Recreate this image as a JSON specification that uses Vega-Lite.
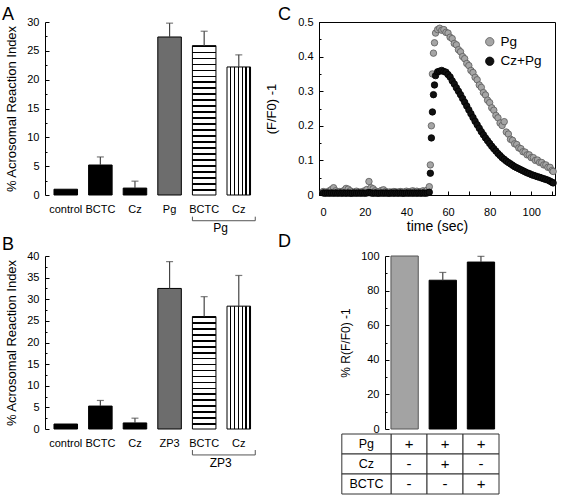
{
  "$schema": "https://vega.github.io/schema/vega-lite/v6.json",
  "autosize": "none",
  "padding": {"left": 45, "top": 22, "right": 518, "bottom": 476},
  "background": "white",
  "config": {
    "font": "Liberation Sans",
    "view": {"stroke": null},
    "axis": {"labelFontSize": 11, "titleFontSize": 13, "titleFontWeight": "normal", "labelColor": "black", "titleColor": "black", "domainColor": "black", "tickColor": "black", "grid": false, "labelOverlap": false},
    "title": {"fontSize": 18, "fontWeight": "normal", "anchor": "start", "frame": "group", "offset": 0, "color": "black"}
  },
  "columns": 2,
  "bounds": "flush",
  "align": "each",
  "spacing": {"row": 61, "column": 20},
  "resolve": {"scale": {"fill": "independent", "stroke": "independent"}, "legend": {"fill": "independent", "stroke": "independent"}},
  "concat": [
    {
      "width": 254, "height": 173,
      "title": {"text": "A", "dx": -43, "dy": 12},
      "data": {"values": [
        {"cond": "control", "value": 1.0, "upper": 1.0},
        {"cond": "BCTC", "value": 5.2, "upper": 6.6},
        {"cond": "Cz", "value": 1.2, "upper": 2.4},
        {"cond": "Pg", "value": 27.4, "upper": 29.8},
        {"cond": "BCTC+Pg", "value": 25.9, "upper": 28.4},
        {"cond": "Cz+Pg", "value": 22.2, "upper": 24.3}
      ]},
      "encoding": {
        "x": {"field": "cond", "type": "nominal", "sort": null,
          "scale": {"type": "band", "domain": ["control", "BCTC", "Cz", "Pg", "BCTC+Pg", "Cz+Pg"], "paddingInner": 0.32, "paddingOuter": 0.83, "align": 0.1565},
          "axis": {"title": null, "domain": false, "ticks": false, "labelPadding": 8, "labelAngle": 0, "labelOverlap": false, "labelExpr": "split(datum.value, '+')[0]"}}
      },
      "layer": [
        {
          "mark": {"type": "bar", "stroke": "black", "strokeWidth": 1},
          "encoding": {
            "y": {"field": "value", "type": "quantitative",
              "scale": {"domain": [0, 30], "nice": false},
              "axis": {"title": "% Acrosomal Reaction Index", "values": [0, 2.5, 5, 7.5, 10, 12.5, 15, 17.5, 20, 22.5, 25, 27.5, 30],
                "tickCount": 50, "labelOverlap": false,
                "labelExpr": "datum.value % 5 === 0 ? format(datum.value, 'd') : ''",
                "tickSize": {"condition": {"test": "datum.value % 5 === 0", "value": -4}, "value": -2},
                "labelPadding": 10, "titlePadding": 8}},
            "fill": {
              "condition": [
                {"test": "datum.cond === 'Pg'", "value": "#6d6d6d"},
                {"test": "datum.cond === 'BCTC+Pg'", "value": {"gradient": "linear", "x1": 0, "y1": 0, "x2": 0, "y2": 1, "stops": [
                  {"offset": 0, "color": "#000"}, {"offset": 0.01, "color": "#000"}, {"offset": 0.01, "color": "#fff"}, {"offset": 0.04, "color": "#fff"},
                  {"offset": 0.04, "color": "#000"}, {"offset": 0.05, "color": "#000"}, {"offset": 0.05, "color": "#fff"}, {"offset": 0.08, "color": "#fff"},
                  {"offset": 0.08, "color": "#000"}, {"offset": 0.09, "color": "#000"}, {"offset": 0.09, "color": "#fff"}, {"offset": 0.12, "color": "#fff"},
                  {"offset": 0.12, "color": "#000"}, {"offset": 0.13, "color": "#000"}, {"offset": 0.13, "color": "#fff"}, {"offset": 0.16, "color": "#fff"},
                  {"offset": 0.16, "color": "#000"}, {"offset": 0.17, "color": "#000"}, {"offset": 0.17, "color": "#fff"}, {"offset": 0.2, "color": "#fff"},
                  {"offset": 0.2, "color": "#000"}, {"offset": 0.21, "color": "#000"}, {"offset": 0.21, "color": "#fff"}, {"offset": 0.24, "color": "#fff"},
                  {"offset": 0.24, "color": "#000"}, {"offset": 0.25, "color": "#000"}, {"offset": 0.25, "color": "#fff"}, {"offset": 0.28, "color": "#fff"},
                  {"offset": 0.28, "color": "#000"}, {"offset": 0.29, "color": "#000"}, {"offset": 0.29, "color": "#fff"}, {"offset": 0.32, "color": "#fff"},
                  {"offset": 0.32, "color": "#000"}, {"offset": 0.33, "color": "#000"}, {"offset": 0.33, "color": "#fff"}, {"offset": 0.36, "color": "#fff"},
                  {"offset": 0.36, "color": "#000"}, {"offset": 0.37, "color": "#000"}, {"offset": 0.37, "color": "#fff"}, {"offset": 0.4, "color": "#fff"},
                  {"offset": 0.4, "color": "#000"}, {"offset": 0.41, "color": "#000"}, {"offset": 0.41, "color": "#fff"}, {"offset": 0.44, "color": "#fff"},
                  {"offset": 0.44, "color": "#000"}, {"offset": 0.45, "color": "#000"}, {"offset": 0.45, "color": "#fff"}, {"offset": 0.48, "color": "#fff"},
                  {"offset": 0.48, "color": "#000"}, {"offset": 0.49, "color": "#000"}, {"offset": 0.49, "color": "#fff"}, {"offset": 0.52, "color": "#fff"},
                  {"offset": 0.52, "color": "#000"}, {"offset": 0.53, "color": "#000"}, {"offset": 0.53, "color": "#fff"}, {"offset": 0.56, "color": "#fff"},
                  {"offset": 0.56, "color": "#000"}, {"offset": 0.57, "color": "#000"}, {"offset": 0.57, "color": "#fff"}, {"offset": 0.6, "color": "#fff"},
                  {"offset": 0.6, "color": "#000"}, {"offset": 0.61, "color": "#000"}, {"offset": 0.61, "color": "#fff"}, {"offset": 0.64, "color": "#fff"},
                  {"offset": 0.64, "color": "#000"}, {"offset": 0.65, "color": "#000"}, {"offset": 0.65, "color": "#fff"}, {"offset": 0.68, "color": "#fff"},
                  {"offset": 0.68, "color": "#000"}, {"offset": 0.69, "color": "#000"}, {"offset": 0.69, "color": "#fff"}, {"offset": 0.72, "color": "#fff"},
                  {"offset": 0.72, "color": "#000"}, {"offset": 0.73, "color": "#000"}, {"offset": 0.73, "color": "#fff"}, {"offset": 0.76, "color": "#fff"},
                  {"offset": 0.76, "color": "#000"}, {"offset": 0.77, "color": "#000"}, {"offset": 0.77, "color": "#fff"}, {"offset": 0.8, "color": "#fff"},
                  {"offset": 0.8, "color": "#000"}, {"offset": 0.81, "color": "#000"}, {"offset": 0.81, "color": "#fff"}, {"offset": 0.84, "color": "#fff"},
                  {"offset": 0.84, "color": "#000"}, {"offset": 0.85, "color": "#000"}, {"offset": 0.85, "color": "#fff"}, {"offset": 0.88, "color": "#fff"},
                  {"offset": 0.88, "color": "#000"}, {"offset": 0.89, "color": "#000"}, {"offset": 0.89, "color": "#fff"}, {"offset": 0.92, "color": "#fff"},
                  {"offset": 0.92, "color": "#000"}, {"offset": 0.93, "color": "#000"}, {"offset": 0.93, "color": "#fff"}, {"offset": 0.96, "color": "#fff"},
                  {"offset": 0.96, "color": "#000"}, {"offset": 0.97, "color": "#000"}, {"offset": 0.97, "color": "#fff"}, {"offset": 1, "color": "#fff"}
                ]}},
                {"test": "datum.cond === 'Cz+Pg'", "value": {"gradient": "linear", "x1": 0, "y1": 0, "x2": 1, "y2": 0, "stops": [
                  {"offset": 0, "color": "#fff"}, {"offset": 0.1167, "color": "#fff"}, {"offset": 0.1167, "color": "#000"}, {"offset": 0.1667, "color": "#000"},
                  {"offset": 0.1667, "color": "#fff"}, {"offset": 0.2833, "color": "#fff"}, {"offset": 0.2833, "color": "#000"}, {"offset": 0.3333, "color": "#000"},
                  {"offset": 0.3333, "color": "#fff"}, {"offset": 0.45, "color": "#fff"}, {"offset": 0.45, "color": "#000"}, {"offset": 0.5, "color": "#000"},
                  {"offset": 0.5, "color": "#fff"}, {"offset": 0.6167, "color": "#fff"}, {"offset": 0.6167, "color": "#000"}, {"offset": 0.6667, "color": "#000"},
                  {"offset": 0.6667, "color": "#fff"}, {"offset": 0.7833, "color": "#fff"}, {"offset": 0.7833, "color": "#000"}, {"offset": 0.8333, "color": "#000"},
                  {"offset": 0.8333, "color": "#fff"}, {"offset": 0.95, "color": "#fff"}, {"offset": 0.95, "color": "#000"}, {"offset": 1, "color": "#000"}
                ]}}
              ],
              "value": "black"
            }
          }
        },
        {
          "transform": [{"filter": "datum.upper > datum.value"}],
          "mark": {"type": "rule", "color": "#444", "strokeWidth": 1.2},
          "encoding": {"y": {"field": "value", "type": "quantitative"}, "y2": {"field": "upper"}}
        },
        {
          "transform": [{"filter": "datum.upper > datum.value"}],
          "mark": {"type": "tick", "orient": "horizontal", "color": "#444", "size": 7, "thickness": 1.2},
          "encoding": {"y": {"field": "upper", "type": "quantitative"}}
        },
        {
          "data": {"values": [{"grp": "Pg"}]},
          "mark": {"type": "rule", "color": "#555", "strokeWidth": 1},
          "encoding": {
            "x": {"datum": "BCTC+Pg", "bandPosition": 0},
            "x2": {"datum": "Cz+Pg", "bandPosition": 1.2},
            "y": {"datum": -4.46, "type": "quantitative"}
          }
        },
        {
          "data": {"values": [{"grp": "Pg"}]},
          "mark": {"type": "rule", "color": "#555", "strokeWidth": 1},
          "encoding": {
            "x": {"datum": "BCTC+Pg", "bandPosition": 0},
            "y": {"datum": -3.76, "type": "quantitative"},
            "y2": {"datum": -4.46}
          }
        },
        {
          "data": {"values": [{"grp": "Pg"}]},
          "mark": {"type": "rule", "color": "#555", "strokeWidth": 1},
          "encoding": {
            "x": {"datum": "Cz+Pg", "bandPosition": 1.2},
            "y": {"datum": -3.76, "type": "quantitative"},
            "y2": {"datum": -4.46}
          }
        },
        {
          "data": {"values": [{"grp": "Pg"}]},
          "mark": {"type": "text", "fontSize": 12, "baseline": "middle", "align": "center"},
          "encoding": {
            "x": {"datum": "BCTC+Pg", "bandPosition": 1.2},
            "y": {"datum": -5.72, "type": "quantitative"},
            "text": {"field": "grp"}
          }
        }
      ]
    },
    {
      "width": 236, "height": 173,
      "view": {"stroke": "black", "strokeWidth": 1},
      "title": {"text": "C", "dx": -41, "dy": 12},
      "data": {"values": [
        {"t": 0, "Pg": 0.010, "Cz+Pg": 0.006}, {"t": 1, "Pg": 0.008, "Cz+Pg": 0.005}, {"t": 2, "Pg": 0.009, "Cz+Pg": 0.006},
        {"t": 3, "Pg": 0.012, "Cz+Pg": 0.005}, {"t": 4, "Pg": 0.016, "Cz+Pg": 0.006}, {"t": 5, "Pg": 0.021, "Cz+Pg": 0.005},
        {"t": 6, "Pg": 0.012, "Cz+Pg": 0.006}, {"t": 7, "Pg": 0.009, "Cz+Pg": 0.005}, {"t": 8, "Pg": 0.010, "Cz+Pg": 0.006},
        {"t": 9, "Pg": 0.008, "Cz+Pg": 0.005}, {"t": 10, "Pg": 0.013, "Cz+Pg": 0.006}, {"t": 11, "Pg": 0.019, "Cz+Pg": 0.005},
        {"t": 12, "Pg": 0.017, "Cz+Pg": 0.006}, {"t": 13, "Pg": 0.012, "Cz+Pg": 0.005}, {"t": 14, "Pg": 0.009, "Cz+Pg": 0.005},
        {"t": 15, "Pg": 0.008, "Cz+Pg": 0.006}, {"t": 16, "Pg": 0.011, "Cz+Pg": 0.005}, {"t": 17, "Pg": 0.009, "Cz+Pg": 0.006},
        {"t": 18, "Pg": 0.008, "Cz+Pg": 0.005}, {"t": 19, "Pg": 0.010, "Cz+Pg": 0.006}, {"t": 20, "Pg": 0.012, "Cz+Pg": 0.005},
        {"t": 21, "Pg": 0.016, "Cz+Pg": 0.006}, {"t": 22, "Pg": 0.039, "Cz+Pg": 0.007}, {"t": 23, "Pg": 0.021, "Cz+Pg": 0.006},
        {"t": 24, "Pg": 0.018, "Cz+Pg": 0.005}, {"t": 25, "Pg": 0.012, "Cz+Pg": 0.006}, {"t": 26, "Pg": 0.009, "Cz+Pg": 0.005},
        {"t": 27, "Pg": 0.010, "Cz+Pg": 0.005}, {"t": 28, "Pg": 0.013, "Cz+Pg": 0.006}, {"t": 29, "Pg": 0.015, "Cz+Pg": 0.005},
        {"t": 30, "Pg": 0.010, "Cz+Pg": 0.006}, {"t": 31, "Pg": 0.008, "Cz+Pg": 0.005}, {"t": 32, "Pg": 0.009, "Cz+Pg": 0.005},
        {"t": 33, "Pg": 0.008, "Cz+Pg": 0.006}, {"t": 34, "Pg": 0.010, "Cz+Pg": 0.005}, {"t": 35, "Pg": 0.009, "Cz+Pg": 0.006},
        {"t": 36, "Pg": 0.008, "Cz+Pg": 0.005}, {"t": 37, "Pg": 0.010, "Cz+Pg": 0.006}, {"t": 38, "Pg": 0.009, "Cz+Pg": 0.005},
        {"t": 39, "Pg": 0.008, "Cz+Pg": 0.005}, {"t": 40, "Pg": 0.011, "Cz+Pg": 0.006}, {"t": 41, "Pg": 0.009, "Cz+Pg": 0.005},
        {"t": 42, "Pg": 0.010, "Cz+Pg": 0.006}, {"t": 43, "Pg": 0.012, "Cz+Pg": 0.005}, {"t": 44, "Pg": 0.010, "Cz+Pg": 0.006},
        {"t": 45, "Pg": 0.011, "Cz+Pg": 0.005}, {"t": 46, "Pg": 0.009, "Cz+Pg": 0.006}, {"t": 47, "Pg": 0.010, "Cz+Pg": 0.005},
        {"t": 48, "Pg": 0.012, "Cz+Pg": 0.006}, {"t": 49, "Pg": 0.010, "Cz+Pg": 0.005}, {"t": 50, "Pg": 0.014, "Cz+Pg": 0.006},
        {"t": 51, "Pg": 0.024, "Cz+Pg": 0.008}, {"t": 51.5, "Pg": 0.087, "Cz+Pg": 0.063}, {"t": 52, "Pg": 0.200, "Cz+Pg": 0.165},
        {"t": 52.5, "Pg": 0.350, "Cz+Pg": 0.240}, {"t": 53, "Pg": 0.410, "Cz+Pg": 0.290}, {"t": 53.5, "Pg": 0.440, "Cz+Pg": 0.318},
        {"t": 54, "Pg": 0.468, "Cz+Pg": 0.345}, {"t": 55, "Pg": 0.478, "Cz+Pg": 0.356}, {"t": 56, "Pg": 0.482, "Cz+Pg": 0.358},
        {"t": 57, "Pg": 0.476, "Cz+Pg": 0.360}, {"t": 58, "Pg": 0.478, "Cz+Pg": 0.357}, {"t": 59, "Pg": 0.470, "Cz+Pg": 0.355},
        {"t": 60, "Pg": 0.468, "Cz+Pg": 0.348}, {"t": 61, "Pg": 0.456, "Cz+Pg": 0.341}, {"t": 62, "Pg": 0.452, "Cz+Pg": 0.330},
        {"t": 63, "Pg": 0.438, "Cz+Pg": 0.321}, {"t": 64, "Pg": 0.434, "Cz+Pg": 0.310}, {"t": 65, "Pg": 0.420, "Cz+Pg": 0.300},
        {"t": 66, "Pg": 0.414, "Cz+Pg": 0.290}, {"t": 67, "Pg": 0.400, "Cz+Pg": 0.279}, {"t": 68, "Pg": 0.394, "Cz+Pg": 0.268},
        {"t": 69, "Pg": 0.380, "Cz+Pg": 0.257}, {"t": 70, "Pg": 0.374, "Cz+Pg": 0.246}, {"t": 71, "Pg": 0.360, "Cz+Pg": 0.235},
        {"t": 72, "Pg": 0.354, "Cz+Pg": 0.224}, {"t": 73, "Pg": 0.340, "Cz+Pg": 0.213}, {"t": 74, "Pg": 0.333, "Cz+Pg": 0.203},
        {"t": 75, "Pg": 0.318, "Cz+Pg": 0.193}, {"t": 76, "Pg": 0.311, "Cz+Pg": 0.183}, {"t": 77, "Pg": 0.296, "Cz+Pg": 0.174},
        {"t": 78, "Pg": 0.289, "Cz+Pg": 0.165}, {"t": 79, "Pg": 0.274, "Cz+Pg": 0.157}, {"t": 80, "Pg": 0.267, "Cz+Pg": 0.149},
        {"t": 81, "Pg": 0.252, "Cz+Pg": 0.141}, {"t": 82, "Pg": 0.245, "Cz+Pg": 0.134}, {"t": 83, "Pg": 0.230, "Cz+Pg": 0.127},
        {"t": 84, "Pg": 0.223, "Cz+Pg": 0.120}, {"t": 85, "Pg": 0.208, "Cz+Pg": 0.114}, {"t": 86, "Pg": 0.201, "Cz+Pg": 0.108},
        {"t": 87, "Pg": 0.212, "Cz+Pg": 0.103}, {"t": 88, "Pg": 0.182, "Cz+Pg": 0.098}, {"t": 89, "Pg": 0.176, "Cz+Pg": 0.094},
        {"t": 90, "Pg": 0.161, "Cz+Pg": 0.090}, {"t": 91, "Pg": 0.158, "Cz+Pg": 0.086}, {"t": 92, "Pg": 0.148, "Cz+Pg": 0.082},
        {"t": 93, "Pg": 0.146, "Cz+Pg": 0.079}, {"t": 94, "Pg": 0.136, "Cz+Pg": 0.076}, {"t": 95, "Pg": 0.134, "Cz+Pg": 0.073},
        {"t": 96, "Pg": 0.125, "Cz+Pg": 0.070}, {"t": 97, "Pg": 0.124, "Cz+Pg": 0.067}, {"t": 98, "Pg": 0.116, "Cz+Pg": 0.064},
        {"t": 99, "Pg": 0.116, "Cz+Pg": 0.062}, {"t": 100, "Pg": 0.108, "Cz+Pg": 0.059}, {"t": 101, "Pg": 0.108, "Cz+Pg": 0.057},
        {"t": 102, "Pg": 0.100, "Cz+Pg": 0.055}, {"t": 103, "Pg": 0.101, "Cz+Pg": 0.053}, {"t": 104, "Pg": 0.094, "Cz+Pg": 0.051},
        {"t": 105, "Pg": 0.094, "Cz+Pg": 0.049}, {"t": 106, "Pg": 0.087, "Cz+Pg": 0.047}, {"t": 107, "Pg": 0.087, "Cz+Pg": 0.045},
        {"t": 108, "Pg": 0.080, "Cz+Pg": 0.043}, {"t": 109, "Pg": 0.080, "Cz+Pg": 0.040}, {"t": 110, "Pg": 0.071, "Cz+Pg": 0.037},
        {"t": 110.5, "Pg": 0.068, "Cz+Pg": 0.035}
      ]},
      "transform": [{"fold": ["Pg", "Cz+Pg"], "as": ["series", "v"]}],
      "mark": {"type": "circle", "size": 42, "strokeWidth": 0.8, "opacity": 1},
      "encoding": {
        "x": {"field": "t", "type": "quantitative",
          "scale": {"domain": [-2, 111.4], "nice": false, "zero": false},
          "axis": {"title": "time (sec)", "titleFontSize": 14, "values": [0, 10, 20, 30, 40, 50, 60, 70, 80, 90, 100, 110],
            "tickCount": 50, "labelOverlap": false,
            "labelExpr": "datum.value % 20 === 0 ? format(datum.value, 'd') : ''", "tickSize": -4, "labelPadding": 15, "titlePadding": 2}},
        "y": {"field": "v", "type": "quantitative",
          "scale": {"domain": [0, 0.5], "nice": false},
          "axis": {"title": "(F/F0) -1", "values": [0, 0.05, 0.1, 0.15, 0.2, 0.25, 0.3, 0.35, 0.4, 0.45, 0.5],
            "tickCount": 50, "labelOverlap": false,
            "labelExpr": "datum.value === 0 ? '0' : (round(datum.value * 100) % 10 === 0 ? format(datum.value, '.1f') : '')",
            "tickSize": {"condition": {"test": "round(datum.value * 100) % 10 === 0", "value": -4}, "value": -2},
            "labelPadding": 10, "titlePadding": 19}},
        "fill": {"field": "series", "type": "nominal",
          "scale": {"domain": ["Pg", "Cz+Pg"], "range": ["#a5a5a5", "#111111"]},
          "legend": {"title": null, "orient": "top-right", "offset": 13, "padding": 0, "labelFontSize": 13.5, "symbolSize": 70, "symbolStrokeWidth": 0.8, "rowPadding": 4.5, "labelOffset": 4, "symbolType": "circle"}},
        "stroke": {"field": "series", "type": "nominal",
          "scale": {"domain": ["Pg", "Cz+Pg"], "range": ["#5a5a5a", "#000000"]},
          "legend": {"title": null, "orient": "top-right", "offset": 13, "padding": 0, "labelFontSize": 13.5, "symbolSize": 70, "symbolStrokeWidth": 0.8, "rowPadding": 4.5, "labelOffset": 4, "symbolType": "circle"}},
        "order": {"field": "series", "sort": "descending"}
      }
    },
    {
      "width": 254, "height": 173,
      "title": {"text": "B", "dx": -43, "dy": 7.6},
      "data": {"values": [
        {"cond": "control", "value": 1.15, "upper": 1.15},
        {"cond": "BCTC", "value": 5.3, "upper": 6.6},
        {"cond": "Cz", "value": 1.4, "upper": 2.5},
        {"cond": "ZP3", "value": 32.5, "upper": 38.7},
        {"cond": "BCTC+ZP3", "value": 26.0, "upper": 30.6},
        {"cond": "Cz+ZP3", "value": 28.4, "upper": 35.5}
      ]},
      "encoding": {
        "x": {"field": "cond", "type": "nominal", "sort": null,
          "scale": {"type": "band", "domain": ["control", "BCTC", "Cz", "ZP3", "BCTC+ZP3", "Cz+ZP3"], "paddingInner": 0.32, "paddingOuter": 0.83, "align": 0.1565},
          "axis": {"title": null, "domain": false, "ticks": false, "labelPadding": 8, "labelAngle": 0, "labelOverlap": false, "labelExpr": "split(datum.value, '+')[0]"}}
      },
      "layer": [
        {
          "mark": {"type": "bar", "stroke": "black", "strokeWidth": 1},
          "encoding": {
            "y": {"field": "value", "type": "quantitative",
              "scale": {"domain": [0, 40], "nice": false},
              "axis": {"title": "% Acrosomal Reaction Index", "values": [0, 2.5, 5, 7.5, 10, 12.5, 15, 17.5, 20, 22.5, 25, 27.5, 30, 32.5, 35, 37.5, 40],
                "tickCount": 50, "labelOverlap": false,
                "labelExpr": "datum.value % 5 === 0 ? format(datum.value, 'd') : ''",
                "tickSize": {"condition": {"test": "datum.value % 5 === 0", "value": -4}, "value": -2},
                "labelPadding": 10, "titlePadding": 8}},
            "fill": {
              "condition": [
                {"test": "datum.cond === 'ZP3'", "value": "#6d6d6d"},
                {"test": "datum.cond === 'BCTC+ZP3'", "value": {"gradient": "linear", "x1": 0, "y1": 0, "x2": 0, "y2": 1, "stops": [
                  {"offset": 0, "color": "#000"}, {"offset": 0.0132, "color": "#000"}, {"offset": 0.0132, "color": "#fff"}, {"offset": 0.0526, "color": "#fff"},
                  {"offset": 0.0526, "color": "#000"}, {"offset": 0.0658, "color": "#000"}, {"offset": 0.0658, "color": "#fff"}, {"offset": 0.1053, "color": "#fff"},
                  {"offset": 0.1053, "color": "#000"}, {"offset": 0.1185, "color": "#000"}, {"offset": 0.1185, "color": "#fff"}, {"offset": 0.1579, "color": "#fff"},
                  {"offset": 0.1579, "color": "#000"}, {"offset": 0.1711, "color": "#000"}, {"offset": 0.1711, "color": "#fff"}, {"offset": 0.2105, "color": "#fff"},
                  {"offset": 0.2105, "color": "#000"}, {"offset": 0.2237, "color": "#000"}, {"offset": 0.2237, "color": "#fff"}, {"offset": 0.2632, "color": "#fff"},
                  {"offset": 0.2632, "color": "#000"}, {"offset": 0.2764, "color": "#000"}, {"offset": 0.2764, "color": "#fff"}, {"offset": 0.3158, "color": "#fff"},
                  {"offset": 0.3158, "color": "#000"}, {"offset": 0.329, "color": "#000"}, {"offset": 0.329, "color": "#fff"}, {"offset": 0.3684, "color": "#fff"},
                  {"offset": 0.3684, "color": "#000"}, {"offset": 0.3816, "color": "#000"}, {"offset": 0.3816, "color": "#fff"}, {"offset": 0.4211, "color": "#fff"},
                  {"offset": 0.4211, "color": "#000"}, {"offset": 0.4343, "color": "#000"}, {"offset": 0.4343, "color": "#fff"}, {"offset": 0.4737, "color": "#fff"},
                  {"offset": 0.4737, "color": "#000"}, {"offset": 0.4869, "color": "#000"}, {"offset": 0.4869, "color": "#fff"}, {"offset": 0.5263, "color": "#fff"},
                  {"offset": 0.5263, "color": "#000"}, {"offset": 0.5395, "color": "#000"}, {"offset": 0.5395, "color": "#fff"}, {"offset": 0.5789, "color": "#fff"},
                  {"offset": 0.5789, "color": "#000"}, {"offset": 0.5921, "color": "#000"}, {"offset": 0.5921, "color": "#fff"}, {"offset": 0.6316, "color": "#fff"},
                  {"offset": 0.6316, "color": "#000"}, {"offset": 0.6448, "color": "#000"}, {"offset": 0.6448, "color": "#fff"}, {"offset": 0.6842, "color": "#fff"},
                  {"offset": 0.6842, "color": "#000"}, {"offset": 0.6974, "color": "#000"}, {"offset": 0.6974, "color": "#fff"}, {"offset": 0.7368, "color": "#fff"},
                  {"offset": 0.7368, "color": "#000"}, {"offset": 0.75, "color": "#000"}, {"offset": 0.75, "color": "#fff"}, {"offset": 0.7895, "color": "#fff"},
                  {"offset": 0.7895, "color": "#000"}, {"offset": 0.8027, "color": "#000"}, {"offset": 0.8027, "color": "#fff"}, {"offset": 0.8421, "color": "#fff"},
                  {"offset": 0.8421, "color": "#000"}, {"offset": 0.8553, "color": "#000"}, {"offset": 0.8553, "color": "#fff"}, {"offset": 0.8947, "color": "#fff"},
                  {"offset": 0.8947, "color": "#000"}, {"offset": 0.9079, "color": "#000"}, {"offset": 0.9079, "color": "#fff"}, {"offset": 0.9474, "color": "#fff"},
                  {"offset": 0.9474, "color": "#000"}, {"offset": 0.9606, "color": "#000"}, {"offset": 0.9606, "color": "#fff"}, {"offset": 1, "color": "#fff"}
                ]}},
                {"test": "datum.cond === 'Cz+ZP3'", "value": {"gradient": "linear", "x1": 0, "y1": 0, "x2": 1, "y2": 0, "stops": [
                  {"offset": 0, "color": "#fff"}, {"offset": 0.1167, "color": "#fff"}, {"offset": 0.1167, "color": "#000"}, {"offset": 0.1667, "color": "#000"},
                  {"offset": 0.1667, "color": "#fff"}, {"offset": 0.2833, "color": "#fff"}, {"offset": 0.2833, "color": "#000"}, {"offset": 0.3333, "color": "#000"},
                  {"offset": 0.3333, "color": "#fff"}, {"offset": 0.45, "color": "#fff"}, {"offset": 0.45, "color": "#000"}, {"offset": 0.5, "color": "#000"},
                  {"offset": 0.5, "color": "#fff"}, {"offset": 0.6167, "color": "#fff"}, {"offset": 0.6167, "color": "#000"}, {"offset": 0.6667, "color": "#000"},
                  {"offset": 0.6667, "color": "#fff"}, {"offset": 0.7833, "color": "#fff"}, {"offset": 0.7833, "color": "#000"}, {"offset": 0.8333, "color": "#000"},
                  {"offset": 0.8333, "color": "#fff"}, {"offset": 0.95, "color": "#fff"}, {"offset": 0.95, "color": "#000"}, {"offset": 1, "color": "#000"}
                ]}}
              ],
              "value": "black"
            }
          }
        },
        {
          "transform": [{"filter": "datum.upper > datum.value"}],
          "mark": {"type": "rule", "color": "#444", "strokeWidth": 1.2},
          "encoding": {"y": {"field": "value", "type": "quantitative"}, "y2": {"field": "upper"}}
        },
        {
          "transform": [{"filter": "datum.upper > datum.value"}],
          "mark": {"type": "tick", "orient": "horizontal", "color": "#444", "size": 7, "thickness": 1.2},
          "encoding": {"y": {"field": "upper", "type": "quantitative"}}
        },
        {
          "data": {"values": [{"grp": "ZP3"}]},
          "mark": {"type": "rule", "color": "#555", "strokeWidth": 1},
          "encoding": {
            "x": {"datum": "BCTC+ZP3", "bandPosition": 0},
            "x2": {"datum": "Cz+ZP3", "bandPosition": 1.2},
            "y": {"datum": -6.0, "type": "quantitative"}
          }
        },
        {
          "data": {"values": [{"grp": "ZP3"}]},
          "mark": {"type": "rule", "color": "#555", "strokeWidth": 1},
          "encoding": {
            "x": {"datum": "BCTC+ZP3", "bandPosition": 0},
            "y": {"datum": -4.86, "type": "quantitative"},
            "y2": {"datum": -6.0}
          }
        },
        {
          "data": {"values": [{"grp": "ZP3"}]},
          "mark": {"type": "rule", "color": "#555", "strokeWidth": 1},
          "encoding": {
            "x": {"datum": "Cz+ZP3", "bandPosition": 1.2},
            "y": {"datum": -4.86, "type": "quantitative"},
            "y2": {"datum": -6.0}
          }
        },
        {
          "data": {"values": [{"grp": "ZP3"}]},
          "mark": {"type": "text", "fontSize": 12, "baseline": "middle", "align": "center"},
          "encoding": {
            "x": {"datum": "BCTC+ZP3", "bandPosition": 1.2},
            "y": {"datum": -7.86, "type": "quantitative"},
            "text": {"field": "grp"}
          }
        }
      ]
    },
    {
      "width": 180, "height": 173,
      "title": {"text": "D", "dx": -41, "dy": 5},
      "resolve": {"scale": {"x": "independent", "y": "independent"}},
      "layer": [
        {
          "data": {"values": [
            {"cond": "Pg", "value": 100, "upper": 100},
            {"cond": "Cz+Pg", "value": 86, "upper": 90.5},
            {"cond": "BCTC+Pg", "value": 96.5, "upper": 99.8}
          ]},
          "encoding": {
            "x": {"field": "cond", "type": "nominal", "sort": null,
              "scale": {"type": "band", "domain": ["Pg", "Cz+Pg", "BCTC+Pg"], "paddingInner": 0.285, "paddingOuter": 1.27, "align": 0.9424},
              "axis": null}
          },
          "layer": [
            {
              "mark": {"type": "bar", "strokeWidth": 1},
              "encoding": {
                "y": {"field": "value", "type": "quantitative",
                  "scale": {"domain": [0, 100], "nice": false},
                  "axis": {"title": "% R(F/F0) -1", "titleFontSize": 12, "offset": -66, "values": [0, 10, 20, 30, 40, 50, 60, 70, 80, 90, 100],
                    "tickCount": 50, "labelOverlap": false,
                    "labelExpr": "datum.value % 20 === 0 ? format(datum.value, 'd') : ''",
                    "tickSize": {"condition": {"test": "datum.value % 20 === 0", "value": -4}, "value": -2},
                    "labelPadding": 10, "titlePadding": 8}},
                "fill": {"condition": {"test": "datum.cond === 'Pg'", "value": "#a3a3a3"}, "value": "black"},
                "stroke": {"condition": {"test": "datum.cond === 'Pg'", "value": "#555555"}, "value": "black"}
              }
            },
            {
              "transform": [{"filter": "datum.upper > datum.value"}],
              "mark": {"type": "rule", "color": "#444", "strokeWidth": 1.2},
              "encoding": {"y": {"field": "value", "type": "quantitative"}, "y2": {"field": "upper"}}
            },
            {
              "transform": [{"filter": "datum.upper > datum.value"}],
              "mark": {"type": "tick", "orient": "horizontal", "color": "#444", "size": 7, "thickness": 1.2},
              "encoding": {"y": {"field": "upper", "type": "quantitative"}}
            }
          ]
        },
        {
          "encoding": {
            "y": {"field": "row", "type": "nominal", "sort": null,
              "scale": {"type": "band", "domain": ["Pg", "Cz", "BCTC"], "range": [178, 238], "paddingInner": 0, "paddingOuter": 0},
              "axis": null}
          },
          "layer": [
            {
              "data": {"values": [
                {"row": "Pg", "col": "Pg", "sign": "+"}, {"row": "Pg", "col": "Cz+Pg", "sign": "+"}, {"row": "Pg", "col": "BCTC+Pg", "sign": "+"},
                {"row": "Cz", "col": "Pg", "sign": "-"}, {"row": "Cz", "col": "Cz+Pg", "sign": "+"}, {"row": "Cz", "col": "BCTC+Pg", "sign": "-"},
                {"row": "BCTC", "col": "Pg", "sign": "-"}, {"row": "BCTC", "col": "Cz+Pg", "sign": "-"}, {"row": "BCTC", "col": "BCTC+Pg", "sign": "+"}
              ]},
              "encoding": {
                "x": {"field": "col", "type": "nominal", "sort": null,
                  "scale": {"type": "band", "domain": ["Pg", "Cz+Pg", "BCTC+Pg"], "paddingInner": 0, "paddingOuter": 1.173, "align": 1},
                  "axis": null}
              },
              "layer": [
                {"mark": {"type": "rect", "fill": "white", "stroke": "#333", "strokeWidth": 1}},
                {"mark": {"type": "text", "fontSize": 15, "baseline": "middle", "align": "center"}, "encoding": {"text": {"field": "sign"}}}
              ]
            },
            {
              "data": {"values": [{"row": "Pg"}, {"row": "Cz"}, {"row": "BCTC"}]},
              "layer": [
                {
                  "mark": {"type": "rect", "fill": "white", "stroke": "#333", "strokeWidth": 1},
                  "encoding": {
                    "x": {"datum": "Pg", "bandPosition": -1.366},
                    "x2": {"datum": "Pg", "bandPosition": 0}
                  }
                },
                {
                  "mark": {"type": "text", "fontSize": 12.5, "baseline": "middle", "align": "center"},
                  "encoding": {
                    "x": {"datum": "Pg", "bandPosition": -0.683},
                    "text": {"field": "row"}
                  }
                }
              ]
            }
          ]
        }
      ]
    }
  ]
}
